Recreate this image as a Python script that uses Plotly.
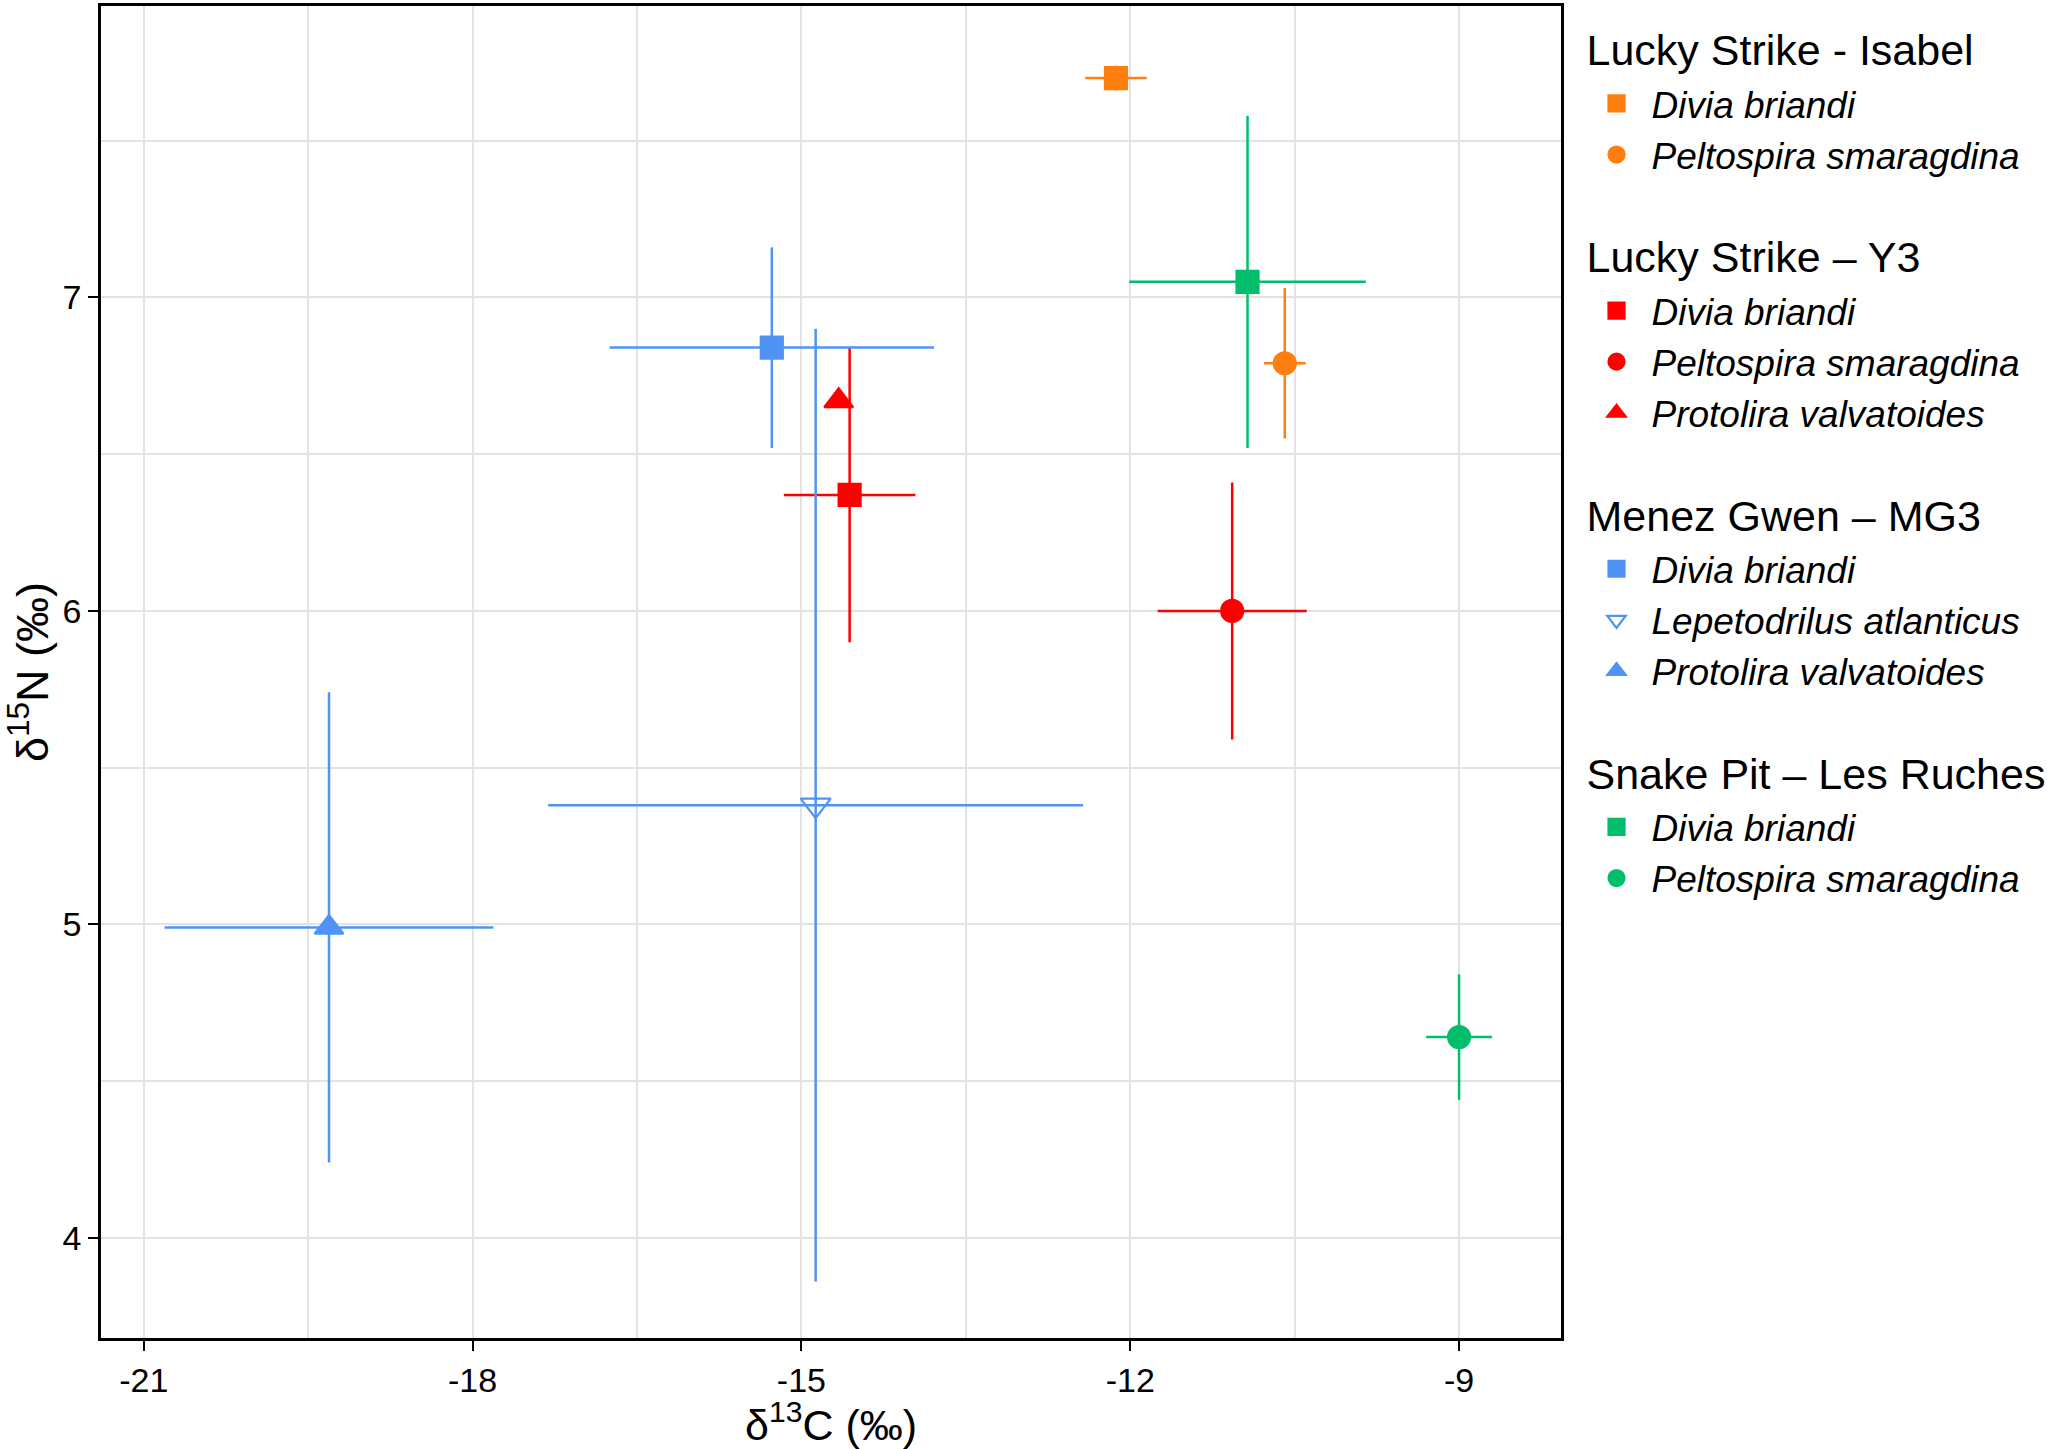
import plotly.graph_objects as go

# mean and sd of d13C / d15N per site and taxon
sites = ["Lucky Strike - Isabel", "Lucky Strike – Y3", "Menez Gwen – MG3", "Snake Pit – Les Ruches"]

isabel_taxa = ["Divia briandi", "Peltospira smaragdina"]
isabel_c = [-12.13, -10.59]
isabel_c_sd = [0.28, 0.19]
isabel_n = [7.70, 6.79]
isabel_n_sd = [0.04, 0.24]

y3_taxa = ["Divia briandi", "Peltospira smaragdina", "Protolira valvatoides"]
y3_c = [-14.56, -11.07, -14.66]
y3_c_sd = [0.60, 0.68, 0.0]
y3_n = [6.37, 6.00, 6.67]
y3_n_sd = [0.47, 0.41, 0.0]

mg3_taxa = ["Divia briandi", "Lepetodrilus atlanticus", "Protolira valvatoides"]
mg3_c = [-15.27, -14.87, -19.31]
mg3_c_sd = [1.48, 2.44, 1.50]
mg3_n = [6.84, 5.38, 4.99]
mg3_n_sd = [0.32, 1.52, 0.75]

snake_taxa = ["Divia briandi", "Peltospira smaragdina"]
snake_c = [-10.93, -9.00]
snake_c_sd = [1.08, 0.30]
snake_n = [7.05, 4.64]
snake_n_sd = [0.53, 0.20]

x_ticks = [-21, -18, -15, -12, -9]
x_ticktext = ["-21", "-18", "-15", "-12", "-9"]
y_ticks = [4, 5, 6, 7]

symbols = {"Divia briandi": "square", "Peltospira smaragdina": "circle",
           "Protolira valvatoides": "triangle-up", "Lepetodrilus atlanticus": "triangle-down-open"}
sizes = {"square": 22, "circle": 22, "triangle-up": 25, "triangle-down-open": 26}

groups = [
    (sites[0], "#FF7F0E", isabel_taxa, isabel_c, isabel_c_sd, isabel_n, isabel_n_sd),
    (sites[1], "#FF0000", y3_taxa, y3_c, y3_c_sd, y3_n, y3_n_sd),
    (sites[2], "#4F94F5", mg3_taxa, mg3_c, mg3_c_sd, mg3_n, mg3_n_sd),
    (sites[3], "#00BE6C", snake_taxa, snake_c, snake_c_sd, snake_n, snake_n_sd),
]

fig = go.Figure()
for site, col, taxa, cx, csd, ny, nsd in groups:
    for i, t in enumerate(taxa):
        sym = symbols[t]
        fig.add_trace(go.Scatter(
            x=[cx[i]], y=[ny[i]], mode="markers",
            name="<i>" + t + "</i>",
            legendgroup=site, legendgrouptitle_text=site,
            marker=dict(symbol=sym, color=col, size=sizes[sym], line=dict(width=2.2, color=col)),
            error_x=dict(type="data", array=[csd[i]], visible=csd[i] > 0, color=col, thickness=2.5, width=0),
            error_y=dict(type="data", array=[nsd[i]], visible=nsd[i] > 0, color=col, thickness=2.5, width=0),
        ))

grid = "#E3E3E3"
fig.update_layout(
    width=2047, height=1449,
    margin=dict(l=101, r=486, t=3, b=111),
    paper_bgcolor="white", plot_bgcolor="white",
    font=dict(family="Liberation Sans, Arial, sans-serif", color="black"),
    legend=dict(xref="container", x=0.7726, xanchor="left", y=0.994, yanchor="top",
                font=dict(size=37), tracegroupgap=46, itemwidth=60,
                grouptitlefont=dict(size=43)),
    xaxis=dict(range=[-21.39, -8.07], tickvals=x_ticks, ticktext=x_ticktext,
               showgrid=True, gridcolor=grid, gridwidth=2,
               minor=dict(dtick=1.5, tick0=-21, showgrid=True, gridcolor=grid, gridwidth=2),
               showline=True, linecolor="black", linewidth=2.5, mirror=True,
               ticks="outside", ticklen=10, tickwidth=2, tickcolor="black", zeroline=False,
               tickfont=dict(size=34),
               title=dict(text="δ<sup>13</sup>C (‰)", font=dict(size=43), standoff=14)),
    yaxis=dict(range=[3.68, 7.93], tickvals=y_ticks,
               showgrid=True, gridcolor=grid, gridwidth=2,
               minor=dict(dtick=0.5, tick0=4, showgrid=True, gridcolor=grid, gridwidth=2),
               showline=True, linecolor="black", linewidth=2.5, mirror=True,
               ticks="outside", ticklen=10, tickwidth=2, tickcolor="black", zeroline=False,
               tickfont=dict(size=34),
               title=dict(text="δ<sup>15</sup>N (‰)", font=dict(size=45), standoff=27)),
)

fig.write_html("out.html", config={"displayModeBar": False},
               post_script="document.body.style.margin='0px';")
